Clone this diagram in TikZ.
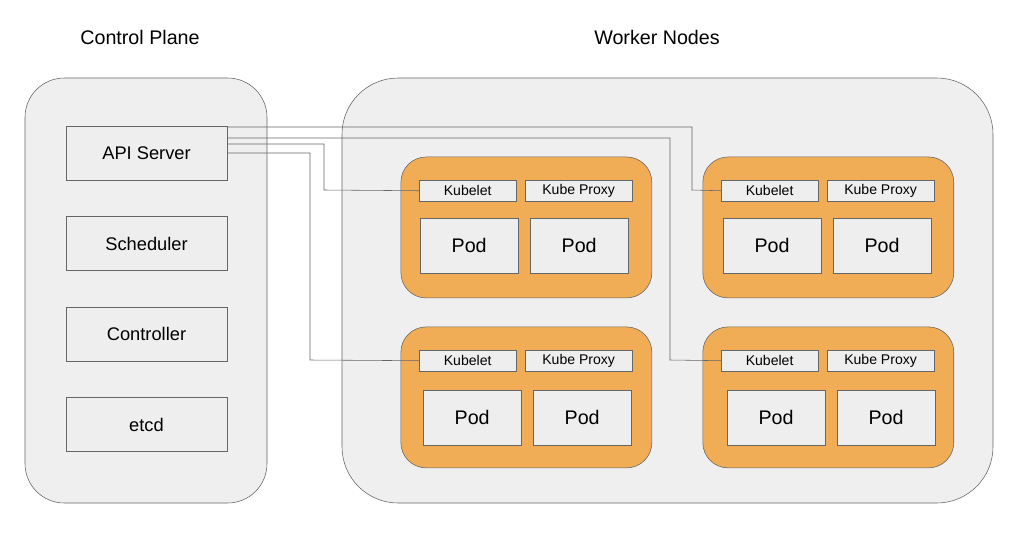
\documentclass[tikz,border=0pt]{standalone}
\usepackage{fontspec}
\setmainfont{Liberation Sans}
\usetikzlibrary{positioning}
\definecolor{panelgray}{HTML}{EFEFEF}
\definecolor{boxgray}{HTML}{EEEEEE}
\definecolor{nodeorange}{HTML}{F0AD55}
\definecolor{edgegray}{HTML}{666666}
\tikzset{
  panel/.style={draw=edgegray,fill=panelgray,rounded corners=#1},
  workerbox/.style={draw=edgegray,fill=nodeorange,rounded corners=18pt},
  compbox/.style={draw=edgegray,fill=boxgray,font=\fontsize{13}{15}\selectfont},
  podbox/.style={draw=edgegray,fill=boxgray,font=\fontsize{14}{16}\selectfont},
  agentbox/.style={draw=edgegray,fill=boxgray,font=\fontsize{10}{12}\selectfont},
  wire/.style={draw=edgegray,thin}
}
\newcommand{\pxbox}[6]{% name, style, x1, y1, x2, y2
  \node[#2,minimum width={(#5-#3)*0.025cm},minimum height={(#6-#4)*0.025cm},inner sep=0pt]
    (#1) at ({(#3+#5)/2*0.025},{-(#4+#6)/2*0.025}) {\strut};}
\begin{document}
\begin{tikzpicture}
	\useasboundingbox (0,0) rectangle (25.6,-13.5);
	% panels
	\draw[panel=28pt] (0.625,-1.95) rectangle (6.675,-12.575);
	\draw[panel=40pt] (8.55,-1.95) rectangle (24.825,-12.575);
	\node[font=\fontsize{14}{16}\selectfont] (cptitle) at (3.5,-0.925) {Control Plane};
	\node[font=\fontsize{14}{16}\selectfont] (wntitle) at (16.425,-0.925) {Worker Nodes};
	% control plane components
	\node[compbox,minimum width=4.025cm,minimum height=1.35cm] (api) at (3.6625,-3.825) {API Server};
	\node[compbox,minimum width=4.025cm,minimum height=1.35cm,below=0.9cm of api] (sched) {Scheduler};
	\node[compbox,minimum width=4.025cm,minimum height=1.35cm,below=0.9cm of sched] (ctrl) {Controller};
	\node[compbox,minimum width=4.025cm,minimum height=1.35cm,below=0.9cm of ctrl] (etcd) {etcd};
	% worker nodes
	\foreach \n/\x/\y in {tl/401/157,tr/703/157,bl/401/327,br/703/327}{
		\draw[workerbox] ({\x*0.025},{-\y*0.025}) rectangle ({(\x+251)*0.025},{-(\y+141)*0.025});
	}
	\foreach \n/\x/\y/\px/\py in {tl/419/180/420/218,tr/721/180/723/218,bl/419/350/423/390,br/721/350/727/390}{
		\node[agentbox,minimum width=2.425cm,minimum height=0.525cm,inner sep=0pt,anchor=north west]
			(kubelet\n) at ({\x*0.025},{-\y*0.025}) {Kubelet};
		\node[agentbox,minimum width=2.675cm,minimum height=0.525cm,inner sep=0pt,anchor=north west]
			(proxy\n) at ({(\x+106)*0.025},{-\y*0.025}) {Kube Proxy};
		\node[podbox,minimum width=2.45cm,minimum height=1.375cm,inner sep=0pt,anchor=north west]
			(poda\n) at ({\px*0.025},{-\py*0.025}) {Pod};
		\node[podbox,minimum width=2.45cm,minimum height=1.375cm,inner sep=0pt,anchor=north west]
			(podb\n) at ({(\px+110)*0.025},{-\py*0.025}) {Pod};
	}
	% connections
	\draw[wire] (api.east |- 0,-3.175) -| (17.3,-4.75) -- (kubelettr.west);
	\draw[wire] (api.east |- 0,-3.45) -| (16.75,-9.0) -- (kubeletbr.west);
	\draw[wire] (api.east |- 0,-3.6) -| (8.1,-4.75) -- (kubelettl.west);
	\draw[wire] (api.east |- 0,-3.825) -| (7.75,-9.0) -- (kubeletbl.west);
\end{tikzpicture}
\end{document}
